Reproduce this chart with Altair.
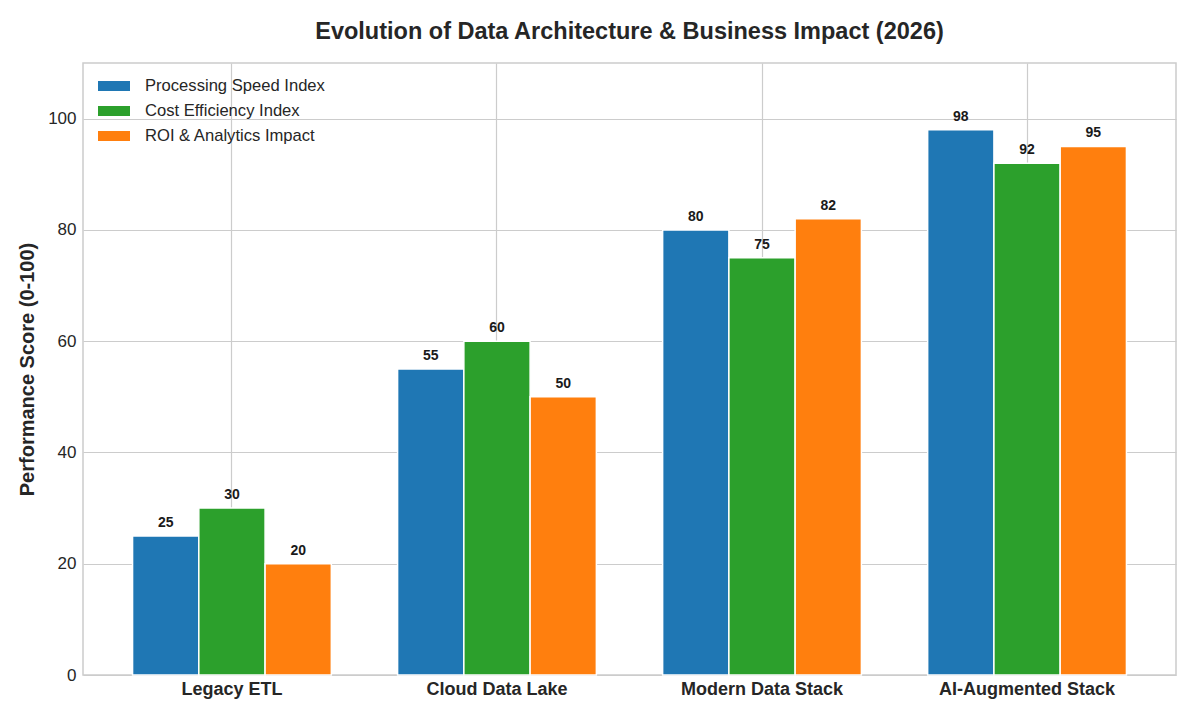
import altair as alt
import pandas as pd

categories = ["Legacy ETL", "Cloud Data Lake", "Modern Data Stack", "AI-Augmented Stack"]
series = ["Processing Speed Index", "Cost Efficiency Index", "ROI & Analytics Impact"]
speed = [25, 55, 80, 98]
cost = [30, 60, 75, 92]
roi = [20, 50, 82, 95]
colors = ["#1f77b4", "#2ca02c", "#ff7f0e"]

rows = []
for name, vals in zip(series, [speed, cost, roi]):
    for c, v in zip(categories, vals):
        rows.append({"Category": c, "Series": name, "Score": v})
df = pd.DataFrame(rows)

FONT = "Liberation Sans"

x = alt.X("Category:N", sort=categories, title=None,
          scale=alt.Scale(paddingInner=0.25, paddingOuter=0.187),
          axis=alt.Axis(labelAngle=0, labelFontWeight="bold", labelFontSize=18,
                        labelColor="#262626", labelPadding=5, tickSize=0, domain=False,
                        grid=True, gridColor="#cccccc", gridWidth=1.2))
xo = alt.XOffset("Series:N", sort=series, scale=alt.Scale(paddingInner=0, paddingOuter=0))
y = alt.Y("Score:Q", title="Performance Score (0-100)",
          scale=alt.Scale(domain=[0, 110], nice=False),
          axis=alt.Axis(values=[0, 20, 40, 60, 80, 100], labelFontSize=17, labelColor="#262626",
                        tickSize=0, labelPadding=7, domain=False, gridColor="#cccccc", gridWidth=1.2,
                        titleFontSize=20, titleFontWeight="bold", titleColor="#262626",
                        titlePadding=10))

bars = alt.Chart(df).mark_bar(stroke="white", strokeWidth=1.5).encode(
    x=x, xOffset=xo, y=y,
    color=alt.Color("Series:N", sort=series,
                    scale=alt.Scale(domain=series, range=colors),
                    legend=alt.Legend(title=None, orient="none", legendX=15, legendY=7,
                                      symbolType="M-1,-0.3125H1V0.3125H-1Z", symbolSize=1024,
                                      symbolStrokeWidth=0, labelFontSize=16.6, labelColor="#262626",
                                      labelOffset=15, rowPadding=0, labelLimit=0, labelFont=FONT)),
)

labels = alt.Chart(df).mark_text(baseline="bottom", dy=-6, fontSize=14, fontWeight="bold",
                                 color="#1a1a1a", font=FONT).encode(
    x=alt.X("Category:N", sort=categories), xOffset=alt.XOffset("Series:N", sort=series),
    y="Score:Q", text="Score:Q")

chart = alt.layer(bars, labels).properties(
    width=1093, height=612,
    title=alt.TitleParams("Evolution of Data Architecture & Business Impact (2026)",
                          fontSize=23.5, fontWeight="bold", color="#262626", font=FONT,
                          anchor="middle", offset=20),
    autosize=alt.AutoSizeParams(type="none"),
    padding={"left": 75, "top": 55, "right": 16, "bottom": 37},
).configure(font=FONT).configure_view(stroke="#cccccc", strokeWidth=1.5).configure_axis(
    labelFont=FONT, titleFont=FONT)

chart.save("out.html", embed_options={"renderer": "svg", "actions": False})
